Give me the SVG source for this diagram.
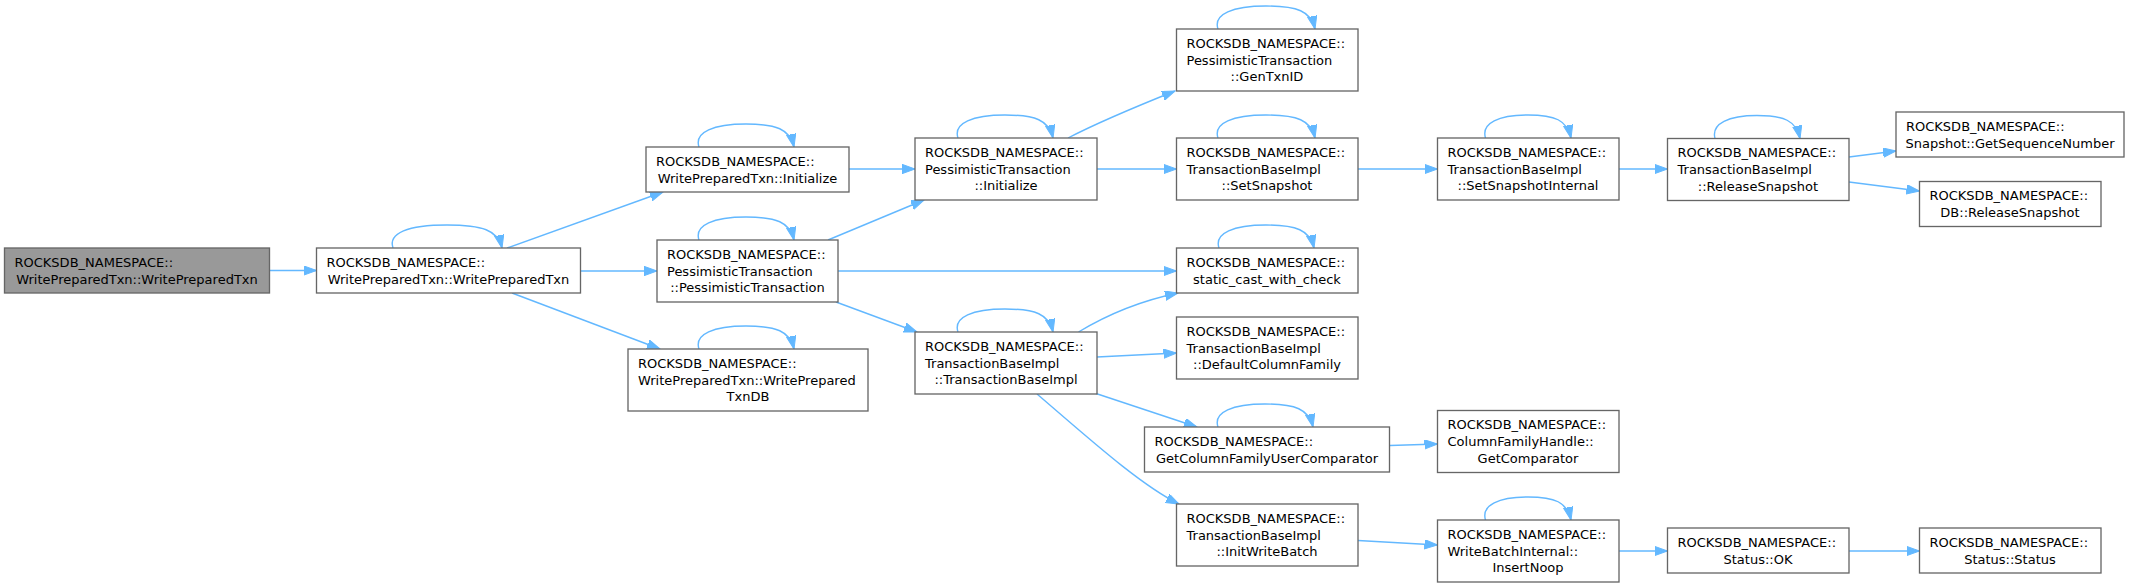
<svg xmlns="http://www.w3.org/2000/svg" width="2129" height="587" viewBox="0 0 2129 587">
<style>
.n rect{fill:#ffffff;stroke:#666666;stroke-width:1.33}
.n.g rect{fill:#999999}
.n text{font-family:"DejaVu Sans","Liberation Sans",sans-serif;font-size:13px;fill:#000000}
.n text.c{text-anchor:middle}
.e path{fill:none;stroke:#63b8ff;stroke-width:1.4;marker-end:url(#ah)}
</style>
<defs>
<marker id="ah" markerUnits="userSpaceOnUse" markerWidth="14" markerHeight="10" refX="13" refY="4.7" orient="auto">
<path d="M0,0 L13,4.7 L0,9.4 Z" fill="#63b8ff" stroke="#63b8ff" stroke-width="1"/>
</marker>
</defs>
<rect x="0" y="0" width="2129" height="587" fill="#ffffff"/>
<g id="connectors" class="e">
<path d="M269.5,270.5 L316.5,270.5"/>
<path d="M393,248 C388,233 408,225 447,225 C482,225 498,230 502,248"/>
<path d="M507,248 L663,192"/>
<path d="M580.5,271 L657,271"/>
<path d="M512,293 L660,349"/>
<path d="M849,169 L915,169"/>
<path d="M828,240 L924,200"/>
<path d="M838,271 L1176.5,271"/>
<path d="M836,302 L917,332"/>
<path d="M1068,138 C1095,124 1140,105 1175,91"/>
<path d="M1097,169 L1176.5,169"/>
<path d="M1358,169 L1437.5,169"/>
<path d="M1619,169 L1667.5,169"/>
<path d="M1849,157 L1896,151"/>
<path d="M1849,182 L1919.5,191"/>
<path d="M1078.5,332 C1105,316 1135,302 1178,293"/>
<path d="M1097,357 L1176.5,353"/>
<path d="M1096,393.5 L1197,427"/>
<path d="M1037,394 C1085,435 1140,485 1179,504"/>
<path d="M1390,445.5 L1437.5,444"/>
<path d="M1358,540.5 L1437.5,545"/>
<path d="M1619,551 L1667.5,551"/>
<path d="M1849,551 L1919.5,551"/>
<path d="M699,147 C694,132 714,124 746,124 C776,124 790,129 794,147"/>
<path d="M699,240 C694,225 714,217 746,217 C776,217 790,222 794,240"/>
<path d="M699,349 C694,334 714,326 746,326 C776,326 790,331 794,349"/>
<path d="M958,138 C953,123 973,115 1005,115 C1035,115 1049,120 1053,138"/>
<path d="M958,332 C953,317 973,309 1005,309 C1035,309 1049,314 1053,332"/>
<path d="M1218,29 C1213,14 1233,6 1266,6 C1297,6 1311,11 1315,29"/>
<path d="M1218,138 C1213,123 1233,115 1266,115 C1297,115 1311,120 1315,138"/>
<path d="M1219,248 C1214,233 1234,225 1266,225 C1296,225 1310,230 1314,248"/>
<path d="M1218,427 C1213,412 1233,404 1265,404 C1295,404 1309,409 1313,427"/>
<path d="M1485.5,138 C1481,123 1499,115 1528,115 C1555,115 1567,120 1571,138"/>
<path d="M1485.5,520 C1481,505 1499,497 1528,497 C1555,497 1567,502 1571,520"/>
<path d="M1715,138.5 C1711,123.5 1729,115.5 1757,115.5 C1784,115.5 1796,120.5 1800,138.5"/>
</g>
<g id="n_wpt_ctor_root" class="n g"><rect x="4.5" y="248" width="265" height="45"/><text x="14.5" y="266.8">ROCKSDB_NAMESPACE::</text><text class="c" x="137" y="283.5">WritePreparedTxn::WritePreparedTxn</text></g>
<g id="n_wpt_ctor" class="n"><rect x="316.5" y="248" width="264" height="45"/><text x="326.5" y="266.8">ROCKSDB_NAMESPACE::</text><text class="c" x="448.5" y="283.5">WritePreparedTxn::WritePreparedTxn</text></g>
<g id="n_wpt_init" class="n"><rect x="646" y="147" width="203" height="45"/><text x="656" y="165.8">ROCKSDB_NAMESPACE::</text><text class="c" x="747.5" y="182.5">WritePreparedTxn::Initialize</text></g>
<g id="n_pt_ctor" class="n"><rect x="657" y="240" width="181" height="62"/><text x="667" y="258.9">ROCKSDB_NAMESPACE::</text><text x="667" y="275.6">PessimisticTransaction</text><text class="c" x="747.5" y="292.3">::PessimisticTransaction</text></g>
<g id="n_wpt_db" class="n"><rect x="628" y="349" width="240" height="62"/><text x="638" y="367.9">ROCKSDB_NAMESPACE::</text><text x="638" y="384.6">WritePreparedTxn::WritePrepared</text><text class="c" x="748" y="401.3">TxnDB</text></g>
<g id="n_pt_init" class="n"><rect x="915" y="138" width="182" height="62"/><text x="925" y="156.9">ROCKSDB_NAMESPACE::</text><text x="925" y="173.6">PessimisticTransaction</text><text class="c" x="1006" y="190.3">::Initialize</text></g>
<g id="n_tbi_ctor" class="n"><rect x="915" y="332" width="182" height="62"/><text x="925" y="350.9">ROCKSDB_NAMESPACE::</text><text x="925" y="367.6">TransactionBaseImpl</text><text class="c" x="1006" y="384.3">::TransactionBaseImpl</text></g>
<g id="n_gentxnid" class="n"><rect x="1176.5" y="29" width="181.5" height="62"/><text x="1186.5" y="47.9">ROCKSDB_NAMESPACE::</text><text x="1186.5" y="64.6">PessimisticTransaction</text><text class="c" x="1267" y="81.3">::GenTxnID</text></g>
<g id="n_setsnapshot" class="n"><rect x="1176.5" y="138" width="181.5" height="62"/><text x="1186.5" y="156.9">ROCKSDB_NAMESPACE::</text><text x="1186.5" y="173.6">TransactionBaseImpl</text><text class="c" x="1267" y="190.3">::SetSnapshot</text></g>
<g id="n_static_cast" class="n"><rect x="1176.5" y="248" width="181.5" height="45"/><text x="1186.5" y="266.8">ROCKSDB_NAMESPACE::</text><text class="c" x="1267" y="283.5">static_cast_with_check</text></g>
<g id="n_defaultcf" class="n"><rect x="1176.5" y="317" width="181.5" height="62"/><text x="1186.5" y="335.9">ROCKSDB_NAMESPACE::</text><text x="1186.5" y="352.6">TransactionBaseImpl</text><text class="c" x="1267" y="369.3">::DefaultColumnFamily</text></g>
<g id="n_getcfuc" class="n"><rect x="1144.5" y="427" width="245" height="45"/><text x="1154.5" y="445.8">ROCKSDB_NAMESPACE::</text><text class="c" x="1267" y="462.5">GetColumnFamilyUserComparator</text></g>
<g id="n_initwb" class="n"><rect x="1176.5" y="504" width="181.5" height="62"/><text x="1186.5" y="522.9">ROCKSDB_NAMESPACE::</text><text x="1186.5" y="539.6">TransactionBaseImpl</text><text class="c" x="1267" y="556.3">::InitWriteBatch</text></g>
<g id="n_ssi" class="n"><rect x="1437.5" y="138" width="181.5" height="62"/><text x="1447.5" y="156.9">ROCKSDB_NAMESPACE::</text><text x="1447.5" y="173.6">TransactionBaseImpl</text><text class="c" x="1528" y="190.3">::SetSnapshotInternal</text></g>
<g id="n_cfh_getcmp" class="n"><rect x="1437.5" y="410.5" width="181.5" height="62"/><text x="1447.5" y="429.4">ROCKSDB_NAMESPACE::</text><text x="1447.5" y="446.1">ColumnFamilyHandle::</text><text class="c" x="1528" y="462.8">GetComparator</text></g>
<g id="n_insertnoop" class="n"><rect x="1437.5" y="520" width="181.5" height="62"/><text x="1447.5" y="538.9">ROCKSDB_NAMESPACE::</text><text x="1447.5" y="555.6">WriteBatchInternal::</text><text class="c" x="1528" y="572.3">InsertNoop</text></g>
<g id="n_relsnap" class="n"><rect x="1667.5" y="138.5" width="181.5" height="62"/><text x="1677.5" y="157.4">ROCKSDB_NAMESPACE::</text><text x="1677.5" y="174.1">TransactionBaseImpl</text><text class="c" x="1758" y="190.8">::ReleaseSnapshot</text></g>
<g id="n_status_ok" class="n"><rect x="1667.5" y="528" width="181.5" height="45"/><text x="1677.5" y="546.8">ROCKSDB_NAMESPACE::</text><text class="c" x="1758" y="563.5">Status::OK</text></g>
<g id="n_getseq" class="n"><rect x="1896" y="112" width="228" height="45"/><text x="1906" y="130.8">ROCKSDB_NAMESPACE::</text><text class="c" x="2010" y="147.5">Snapshot::GetSequenceNumber</text></g>
<g id="n_db_relsnap" class="n"><rect x="1919.5" y="181.5" width="181.5" height="45"/><text x="1929.5" y="200.3">ROCKSDB_NAMESPACE::</text><text class="c" x="2010" y="217">DB::ReleaseSnapshot</text></g>
<g id="n_status_status" class="n"><rect x="1919.5" y="528" width="181.5" height="45"/><text x="1929.5" y="546.8">ROCKSDB_NAMESPACE::</text><text class="c" x="2010" y="563.5">Status::Status</text></g>
</svg>
